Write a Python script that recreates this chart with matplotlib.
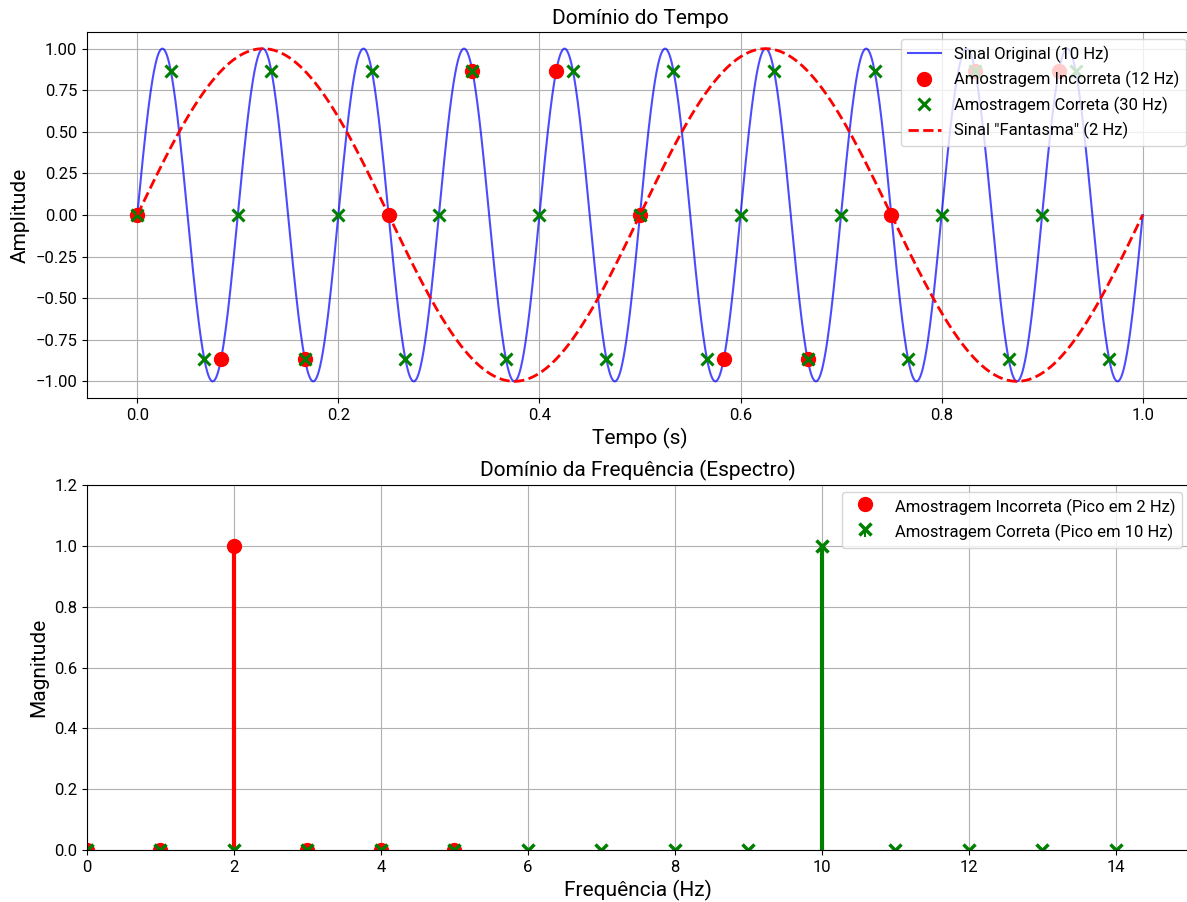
import numpy as np
import matplotlib.pyplot as plt

plt.rcParams['font.family'] = ['Roboto', 'DejaVu Sans']

# signal frequencies (Hz)
fOrig = 10
fGhost = 2

# samples
tBad = [0, 1/12, 2/12, 3/12, 4/12, 5/12, 6/12, 7/12, 8/12, 9/12, 10/12, 11/12]
yBad = [0, -0.866, -0.866, 0, 0.866, 0.866, 0, -0.866, -0.866, 0, 0.866, 0.866]
tGood = [k / 30 for k in range(30)]
yGood = [0, 0.866, -0.866] * 10

# spectrum
freqBad = [0, 1, 2, 3, 4, 5]
magBad = [0, 0, 1.0, 0, 0, 0]
freqGood = [0, 1, 2, 3, 4, 5, 6, 7, 8, 9, 10, 11, 12, 13, 14]
magGood = [0, 0, 0, 0, 0, 0, 0, 0, 0, 0, 1.0, 0, 0, 0, 0]

t = np.linspace(0, 1, 2000)

fig = plt.figure(figsize=(11.87, 9.02), dpi=100)
ax1 = fig.add_axes([0.0733, 0.5588, 0.9317, 0.4057])
ax2 = fig.add_axes([0.0733, 0.0576, 0.9284, 0.4047])

ax1.plot(t, np.sin(2 * np.pi * fOrig * t), color='blue', alpha=0.7, lw=1.5,
         label='Sinal Original (10 Hz)')
ax1.plot(tBad, yBad, 'o', color='red', ms=10, label='Amostragem Incorreta (12 Hz)')
ax1.plot(tGood, yGood, 'x', color='green', ms=9, mew=2.2, label='Amostragem Correta (30 Hz)')
ax1.plot(t, np.sin(2 * np.pi * fGhost * t), '--', color='red', lw=2,
         label='Sinal "Fantasma" (2 Hz)')
ax1.set_xlim(-0.05, 1.05)
ax1.set_ylim(-1.1, 1.1)
ax1.set_yticks([-1, -0.75, -0.5, -0.25, 0, 0.25, 0.5, 0.75, 1.0])
ax1.set_title('Domínio do Tempo', fontsize=15)
ax1.set_xlabel('Tempo (s)', fontsize=15)
ax1.set_ylabel('Amplitude', fontsize=15)
ax1.tick_params(labelsize=12)
ax1.grid(True)
ax1.legend(loc='upper right', fontsize=12, borderaxespad=0.4)

m, s, b = ax2.stem(freqBad, magBad, linefmt='r-', markerfmt='ro', basefmt=' ',
                   label='Amostragem Incorreta (Pico em 2 Hz)')
plt.setp(s, linewidth=3)
plt.setp(m, markersize=10)
m, s, b = ax2.stem(freqGood, magGood, linefmt='g-', markerfmt='gx', basefmt=' ',
                   label='Amostragem Correta (Pico em 10 Hz)')
plt.setp(s, linewidth=3)
plt.setp(m, markersize=9, markeredgewidth=2.5)
ax2.set_xlim(0, 15)
ax2.set_ylim(0, 1.2)
ax2.set_title('Domínio da Frequência (Espectro)', fontsize=15)
ax2.set_xlabel('Frequência (Hz)', fontsize=15)
ax2.set_ylabel('Magnitude', fontsize=15)
ax2.tick_params(labelsize=12)
ax2.grid(True)
ax2.legend(loc='upper right', fontsize=12, borderaxespad=0.4)

plt.savefig('out.png', dpi=100)
